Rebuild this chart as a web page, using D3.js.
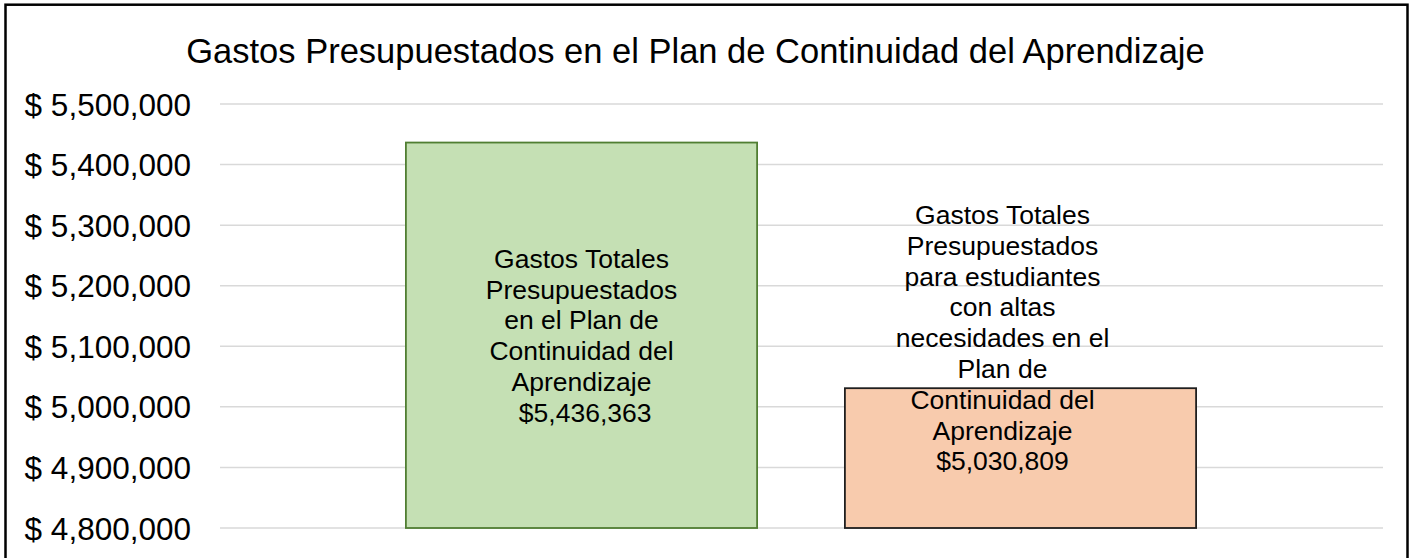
<!DOCTYPE html>
<html>
<head>
<meta charset="utf-8">
<script src="https://cdn.jsdelivr.net/npm/d3@7"></script>
<style>
  html, body { margin: 0; padding: 0; background: #fff; }
  svg { display: block; font-family: "Liberation Sans", Arial, sans-serif; }
</style>
</head>
<body>
<div id="chart"></div>
<script>
// Données du graphique
const categories = ["total", "altas"];
const values = [5436363, 5030809];
const labelLines = [
  ["Gastos Totales", "Presupuestados", "en el Plan de", "Continuidad del", "Aprendizaje", " $5,436,363"],
  ["Gastos Totales", "Presupuestados", "para estudiantes", "con altas", "necesidades en el", "Plan de", "Continuidad del", "Aprendizaje", "$5,030,809"]
];
const yTicks = [4800000, 4900000, 5000000, 5100000, 5200000, 5300000, 5400000, 5500000];
const title = "Gastos Presupuestados en el Plan de Continuidad del Aprendizaje";

const fills = ["#C5E0B4", "#F8CBAD"];
const strokes = ["#507E32", "#1F1F1F"];

const width = 1414, height = 558;
const plot = { left: 220, right: 1383 };

const svg = d3.select("#chart").append("svg")
    .attr("width", width)
    .attr("height", height);

svg.append("rect")
    .attr("width", width).attr("height", height)
    .attr("fill", "#fff");

// cadre extérieur
svg.append("rect")
    .attr("x", 5.5).attr("y", 4.7)
    .attr("width", 1402).attr("height", 600)
    .attr("fill", "none")
    .attr("stroke", "#000")
    .attr("stroke-width", 2.5);

// titre
svg.append("text")
    .attr("x", 695.5)
    .attr("y", 63)
    .attr("text-anchor", "middle")
    .style("font-size", "34.5px")
    .style("fill", "#000")
    .text(title);

const y = d3.scaleLinear()
    .domain([4800000, 5500000])
    .range([528, 104]);

const x = d3.scaleBand()
    .domain(categories)
    .range([362, 1240])
    .paddingInner(0.2)
    .paddingOuter(0.1);

// grille
svg.append("g")
    .selectAll("line")
    .data(yTicks)
    .join("line")
    .attr("x1", plot.left)
    .attr("x2", plot.right)
    .attr("y1", d => y(d))
    .attr("y2", d => y(d))
    .attr("stroke", "#D9D9D9")
    .attr("stroke-width", 1.5);

// axe Y
const fmt = d3.format(",");
const yAxis = svg.append("g")
    .attr("transform", `translate(${plot.left},0)`)
    .call(d3.axisLeft(y).tickValues(yTicks).tickSize(0).tickPadding(29)
        .tickFormat(d => "$ " + fmt(d)));
yAxis.select(".domain").remove();
yAxis.selectAll("text")
    .attr("dy", "0.35em")
    .style("font-family", "\"Liberation Sans\", Arial, sans-serif")
    .style("font-size", "31.5px")
    .style("fill", "#000");

// barres
svg.append("g")
    .selectAll("rect")
    .data(values)
    .join("rect")
    .attr("x", (d, i) => x(categories[i]))
    .attr("y", d => y(d))
    .attr("width", x.bandwidth())
    .attr("height", d => y(4800000) - y(d))
    .attr("fill", (d, i) => fills[i])
    .attr("stroke", (d, i) => strokes[i])
    .attr("stroke-width", 1.8);

// étiquettes (position du bloc de texte, comme dans Excel)
const lineH = 30.8;
const labelDx = [0, -18];
const labelMid = [
  (y(values[0]) + y(4800000)) / 2 + 9.5,
  y(values[1]) - 41
];

const labels = svg.append("g")
    .selectAll("text")
    .data(labelLines)
    .join("text")
    .attr("text-anchor", "middle")
    .style("font-size", "26.5px")
    .style("fill", "#000")
    .style("white-space", "pre");

labels.each(function(lines, i) {
    const cx = x(categories[i]) + x.bandwidth() / 2 + labelDx[i];
    const y0 = labelMid[i] - (lines.length - 1) / 2 * lineH;
    d3.select(this).selectAll("tspan")
        .data(lines)
        .join("tspan")
        .attr("x", cx)
        .attr("y", (d, j) => y0 + j * lineH)
        .text(d => d);
});
</script>
</body>
</html>
